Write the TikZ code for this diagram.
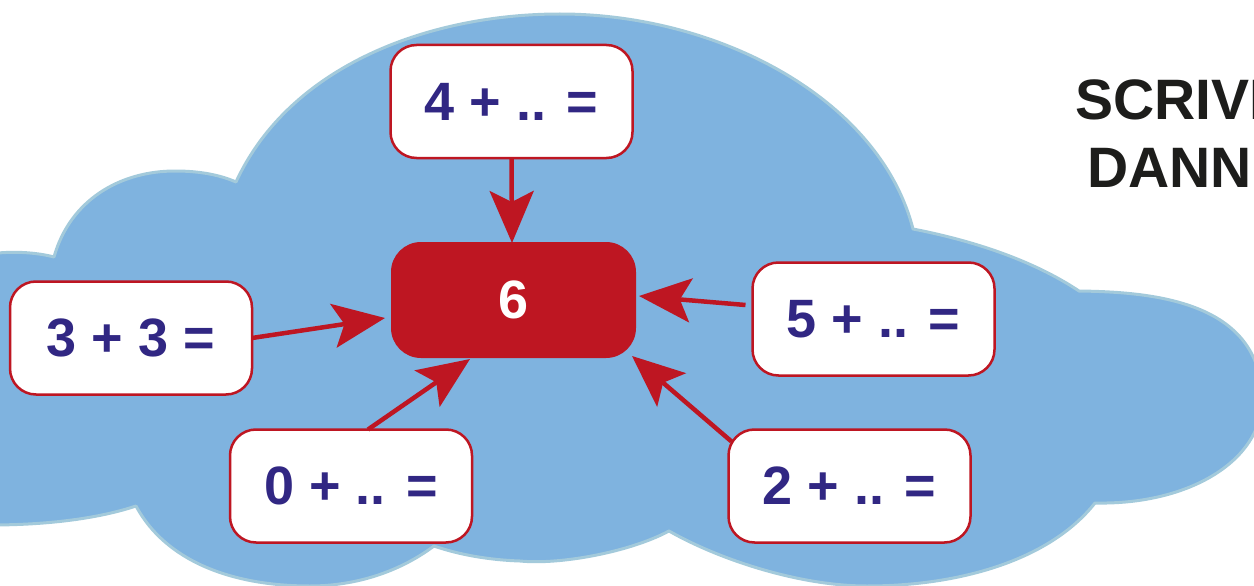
\documentclass[tikz,border=0pt]{standalone}
\usepackage{fontspec}
\setmainfont{Liberation Sans}
\usetikzlibrary{arrows.meta,calc}
\definecolor{cloudblue}{HTML}{7FB3DF}
\definecolor{cloudedge}{HTML}{A3CADB}
\definecolor{boxred}{HTML}{BE1622}
\definecolor{numblue}{HTML}{312783}
\definecolor{inkblack}{HTML}{1D1D1B}
\tikzset{
  sumbox/.style={draw=boxred,line width=2.5pt,fill=white,rounded corners=26pt,minimum width=242pt,minimum height=113pt,inner sep=0pt,outer sep=0pt,text=numblue,font=\fontsize{54}{60}\selectfont\bfseries},
  resultbox/.style={fill=boxred,rounded corners=30pt,minimum width=245pt,minimum height=116pt,inner sep=0pt,outer sep=0pt,text=white,font=\fontsize{54}{60}\selectfont\bfseries},
  conn/.style={draw=boxred,line width=4.5pt,-{Stealth[length=52pt,width=44pt,inset=11pt]}},
  heading/.style={anchor=base west,inner sep=0pt,outer sep=0pt,text=inkblack,font=\fontsize{57}{60}\selectfont\bfseries},
  cloud/.style={fill=cloudblue,draw=cloudedge,line width=3pt,line join=round}
}
\begin{document}
\begin{tikzpicture}[x=1pt,y=-1pt]
\useasboundingbox (0,0) rectangle (1254,586);
\path[cloud] (-10,254)
  .. controls (10,251) and (35,252) .. (54,257)
  .. controls (70,200) and (120,171) .. (175,171)
  .. controls (200,171) and (220,175) .. (236,182)
  .. controls (290,65) and (430,14) .. (560,14)
  .. controls (720,14) and (880,100) .. (913,229)
  .. controls (985,243) and (1040,265) .. (1079,291)
  .. controls (1150,292) and (1262,300) .. (1262,400)
  .. controls (1262,460) and (1190,505) .. (1095,503)
  .. controls (1050,560) and (960,586) .. (867,586)
  .. controls (800,586) and (720,560) .. (669,531)
  .. controls (630,552) and (560,565) .. (520,561)
  .. controls (490,560) and (460,555) .. (434,546)
  .. controls (395,575) and (350,586) .. (310,586)
  .. controls (230,586) and (165,560) .. (136,506)
  .. controls (100,518) and (50,525) .. (-10,525)
  -- cycle;
\node[sumbox] (a4) at (511.5,101.5) {4 + .. =};
\node[resultbox] (c) at (513.5,300) {6};
\node[sumbox] (a3) at (131,338) {3 + 3 =};
\node[sumbox] (a0) at (351,486) {0 + .. =};
\node[sumbox] (a2) at (849.5,486) {2 + .. =};
\node[sumbox] (a5) at (873.5,319) {5 + .. =};
\node[heading] (h1) at (1075,120) {SCRIVI};
\node[heading] (h2) at (1087,187) {DANN};
\draw[conn] (a4.south) -- ($(c.north)+(-1.5,1)$);
\draw[conn] (a3.east) -- ($(c.west)+(-6,18)$);
\draw[conn] ($(a0.north)+(17,0)$) -- ($(c.south)+(-43.5,1)$);
\draw[conn] ($(a2.north west)+(3,12)$) -- ($(c.south east)+(-4,-2)$);
\draw[conn] ($(a5.west)+(-7,-14)$) -- ($(c.east)+(3,-4)$);
\end{tikzpicture}
\end{document}
